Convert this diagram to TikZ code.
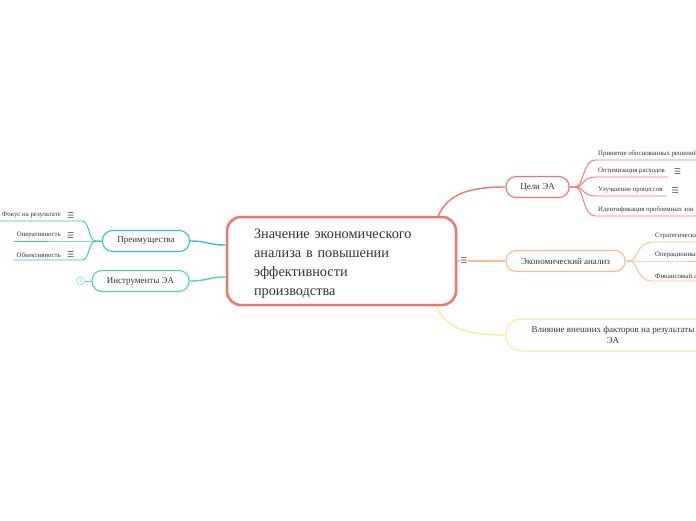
\documentclass[tikz,border=0pt]{standalone}
\usepackage{fontspec}
\setmainfont{Liberation Serif}
\newfontfamily\symfont{DejaVu Sans}
\usetikzlibrary{positioning}
\definecolor{mmred}{HTML}{F4736E}
\definecolor{mmorange}{HTML}{FDBA8C}
\definecolor{mmyellow}{HTML}{FAEE8E}
\definecolor{mmcyan}{HTML}{2CC4D4}
\definecolor{mmgreen}{HTML}{4FD8A4}
\definecolor{ink}{HTML}{333333}
\newcommand{\menuglyph}{{\symfont\fontsize{8}{8}\selectfont ☰}}

\begin{document}
\begin{tikzpicture}[x=1pt, y=-1pt,
    topic/.style={draw, rounded corners=10pt, minimum height=21pt, line width=1.1pt,
      inner sep=2pt, text=ink, font=\fontsize{9}{11}\selectfont},
    leaf/.style={inner xsep=3pt, inner ysep=2.5pt, text=ink, font=\fontsize{6.8}{8}\selectfont},
    menu/.style={inner sep=0.5pt, fill=white, text=ink!85},
    branch/.style={line width=1.4pt},
    twig/.style={line width=0.9pt}]
    \useasboundingbox (0,0) rectangle (696,520);
    \clip (0,0) rectangle (696,520);
    \fill[white] (0,0) rectangle (696,520);

    % Central topic
    \node[draw=mmred, line width=2.5pt, rounded corners=14pt, minimum width=229pt,
      minimum height=88pt] (main) at (341.5,261) {};
    \node[text width=175pt, align=left, text=ink, font=\fontsize{14.3}{19}\selectfont]
      (mainText) at ([yshift=-3pt]main.center)
      {Значение экономического\\анализа в повышении\\эффективности\\производства};

    % Main topics
    \node[topic, draw=mmred, minimum width=63pt] (goals) at (537.5,187) {Цели ЭА};
    \node[topic, draw=mmorange, minimum width=119pt] (analysis) at (565.5,261) {Экономический анализ};
    \node[topic, draw=mmyellow, minimum width=214pt, minimum height=32pt, rounded corners=15pt,
      align=center] (impact) at (613,335) {Влияние внешних факторов на результаты\\ЭА};
    \node[topic, draw=mmcyan, minimum width=87pt] (benefits) at (146,241) {Преимущества};
    \node[topic, draw=mmgreen, minimum width=97pt] (tools) at (140.5,281) {Инструменты ЭА};

    % Branches from the centre
    \draw[branch, mmred] ([xshift=-19pt]main.north east) .. controls +(10,-22) and +(-36,0) .. (goals.west);
    \draw[branch, mmyellow] ([xshift=-21pt]main.south east) .. controls +(10,22) and +(-40,0) .. (impact.west);
    \node[menu] (menuA) at (464,261) {\menuglyph};
    \draw[branch, mmorange] (main.east) -- (menuA.west);
    \draw[branch, mmorange] (menuA.east) -- (analysis.west);
    \draw[branch, mmcyan] ([yshift=16pt]main.west) .. controls +(-18,0) and +(18,0) .. (benefits.east);
    \draw[branch, mmgreen] ([yshift=-16pt]main.west) .. controls +(-18,0) and +(18,0) .. (tools.east);

    % Collapsed marker
    \node[circle, draw=mmgreen!60, line width=0.8pt, minimum size=8pt, inner sep=0pt,
      text=mmgreen, font=\fontsize{5}{5}\selectfont] (count) at (80.5,281) {4};
    \draw[twig, mmgreen] (count) -- (tools);

    % Goals
    \foreach \i/\y/\txt/\ic in {1/160/Принятие обоснованных решений/0,
        2/177/Оптимизация расходов/1,
        3/196/Улучшение процессов/1,
        4/216/Идентификация проблемных зон/0} {
      \node[leaf, anchor=south west] (g\i) at (595,\y) {\txt};
      \draw[twig, mmred] (goals.east) -- ++(6,0) .. controls +(8,0) and +(-12,0) .. (g\i.south west) -- (g\i.south east);
      \ifnum\ic=1 \node[menu, right=5pt of g\i] {\menuglyph}; \fi
    }

    % Kinds of analysis
    \foreach \i/\y/\txt in {1/242/Стратегический анализ,
        2/261/Операционный анализ,
        3/281/Финансовый анализ} {
      \node[leaf, anchor=south west] (a\i) at (652,\y) {\txt};
      \draw[twig, mmorange] (analysis.east) -- ++(4,0) .. controls +(8,0) and +(-15,0) .. (a\i.south west) -- (a\i.south east);
    }

    % Benefits
    \foreach \i/\y/\txt in {1/221/Фокус на результате,
        2/241/Оперативность,
        3/260/Объективность} {
      \node[leaf, anchor=south east] (b\i) at (64,\y) {\txt};
      \node[menu, right=2.5pt of b\i] {\menuglyph};
      \draw[twig, mmcyan] (benefits.west) -- ++(-6,0) .. controls +(-8,0) and +(8,0) .. ([xshift=18pt]b\i.south east) -- (b\i.south west);
    }
\end{tikzpicture}
\end{document}
